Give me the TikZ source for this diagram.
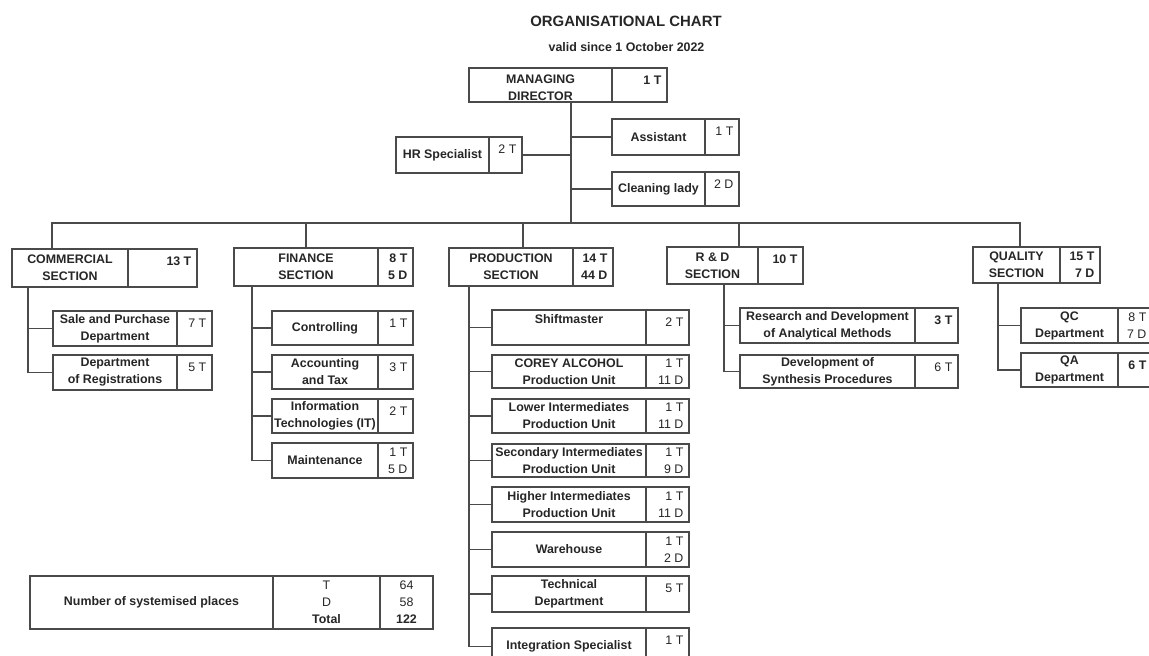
\documentclass[tikz,border=0pt]{standalone}
\usepackage{fontspec}
\setmainfont{Liberation Sans}
\usetikzlibrary{calc}
\definecolor{ink}{HTML}{262626}
\definecolor{linec}{HTML}{4A4A4A}
\newcommand{\bodyfont}{\fontsize{9.3}{12.75}\selectfont}
\tikzset{
  cell/.style={draw=linec, line width=0.9pt, inner sep=0pt, align=center,
    font=\bfseries\bodyfont, text=ink},
  numt/.style={inner sep=0pt, align=right, font=\bodyfont, text=ink, anchor=north east},
  numc/.style={inner sep=0pt, align=right, font=\bodyfont, text=ink, anchor=east},
  conn/.style={draw=linec, line width=0.9pt},
  tabt/.style={inner sep=0pt, align=center, font=\bodyfont, text=ink},
}
% a cell from (x1,y1) to (x2,y2): #1 options, #2 name, #3 x1, #4 y1, #5 x2, #6 y2, #7 text
\newcommand{\cellat}[7]{%
  \node[cell, minimum width={(#5-#3)*0.75pt}, minimum height={(#6-#4)*0.75pt}, #1]
    (#2) at ({(#3+#5)/2},{(#4+#6)/2}) {#7};
}
% #1 name, #2 x1, #3 y1, #4 divider x, #5 x2, #6 y2, #7 text, #8 number (top)
\newcommand{\orgbox}[8]{%
  \cellat{}{#1}{#2}{#3}{#4}{#6}{#7}
  \cellat{}{#1n}{#4}{#3}{#5}{#6}{}
  \node[numt] (#1t) at ($(#1n.north east)+(-6,8)$) {#8};
}
% same, number of two lines centred vertically
\newcommand{\orgboxc}[8]{%
  \cellat{}{#1}{#2}{#3}{#4}{#6}{#7}
  \cellat{}{#1n}{#4}{#3}{#5}{#6}{}
  \node[numc] (#1t) at ($(#1n.east)+(-6,0)$) {#8};
}
\begin{document}
\begin{tikzpicture}[x=0.75pt,y=-0.75pt]
\useasboundingbox (0,0) rectangle (1149,656);
\clip (0,0) rectangle (1149,656);

% titles
\node[font=\bfseries\fontsize{11.2}{13}\selectfont, text=ink, inner sep=0pt] (title) at (626,21) {ORGANISATIONAL CHART};
\node[font=\bfseries\bodyfont, text=ink, inner sep=0pt] (valid) at (626.5,47) {valid since 1 October 2022};

% top management
\orgbox{md}{469}{68}{612}{667}{102}{}{\textbf{1 T}}
\node[cell, draw=none] (mdtx) at ($(md.center)+(0,3)$) {MANAGING\\DIRECTOR};
\orgbox{asst}{612}{119}{705}{739}{155}{Assistant}{1 T}
\orgbox{hr}{396}{137}{489}{522}{173}{HR Specialist}{2 T}
\orgbox{clean}{612}{172}{705}{739}{206}{Cleaning lady}{2 D}

% sections
\orgbox{com}{12}{249}{128}{197}{287}{COMMERCIAL\\SECTION}{\textbf{13 T}}
\orgboxc{fin}{234}{248}{378}{413}{286}{FINANCE\\SECTION}{\textbf{8 T}\\\textbf{5 D}}
\orgboxc{prod}{449}{248}{573}{613}{286}{PRODUCTION\\SECTION}{\textbf{14 T}\\\textbf{44 D}}
\orgbox{rd}{667}{247}{758}{803}{284}{R \& D\\SECTION}{\textbf{10 T}}
\orgboxc{qual}{973}{247}{1060}{1100}{283}{QUALITY\\SECTION}{\textbf{15 T}\\\textbf{7 D}}

% commercial
\orgbox{sale}{53}{311}{177}{212}{346}{Sale and Purchase\\Department}{7 T}
\orgbox{reg}{53}{355}{177}{212}{390}{Department\\of Registrations}{5 T}

% finance
\orgbox{ctrl}{272}{311}{378}{413}{345}{Controlling}{1 T}
\orgbox{acct}{272}{355}{378}{413}{389}{Accounting\\and Tax}{3 T}
\orgbox{itech}{272}{399}{378}{413}{433}{Information\\Technologies (IT)}{2 T}
\orgboxc{maint}{272}{443}{378}{413}{478}{Maintenance}{1 T\\5 D}

% production
\orgbox{shift}{492}{310}{646}{689}{345}{Shiftmaster\\~}{2 T}
\orgboxc{corey}{492}{355}{646}{689}{388}{COREY ALCOHOL\\Production Unit}{1 T\\11 D}
\orgboxc{lower}{492}{399}{646}{689}{433}{Lower Intermediates\\Production Unit}{1 T\\11 D}
\orgboxc{second}{492}{444}{646}{689}{477}{Secondary Intermediates\\Production Unit}{1 T\\9 D}
\orgboxc{higher}{492}{487}{646}{689}{522}{Higher Intermediates\\Production Unit}{1 T\\11 D}
\orgboxc{ware}{492}{532}{646}{689}{567}{Warehouse}{1 T\\2 D}
\orgbox{tech}{492}{576}{646}{689}{612}{Technical\\Department}{5 T}
\orgbox{integ}{492}{628}{646}{689}{665}{Integration Specialist}{1 T}

% R&D
\orgbox{rdam}{740}{308}{915}{958}{343}{Research and Development\\of Analytical Methods}{\textbf{3 T}}
\orgbox{rdsp}{740}{355}{915}{958}{388}{Development of\\Synthesis Procedures}{6 T}

% quality
\orgboxc{qc}{1021}{308}{1118}{1152}{343}{QC\\Department}{8 T\\7 D}
\orgbox{qa}{1021}{353}{1118}{1152}{387}{QA\\Department}{\textbf{6 T}}

% connectors of the top
\coordinate (dm) at (571,223);
\coordinate (dc) at (52,223);
\coordinate (df) at (306,223);
\coordinate (dp) at (523,223);
\coordinate (dr) at (739,223);
\coordinate (dq) at (1020,223);
\draw[conn] (md.south -| dm) -- (dm);
\draw[conn] (asst.west) -- (asst.west -| dm);
\draw[conn] (hrn.east) -- (hrn.east -| dm);
\draw[conn] (clean.west) -- (clean.west -| dm);
\draw[conn] (com.north -| dc) -- (dc) -- (dq) -- (qual.north -| dq);
\draw[conn] (fin.north -| df) -- (df);
\draw[conn] (prod.north -| dp) -- (dp);
\draw[conn] (rd.north -| dr) -- (dr);

% spines
\coordinate (sc) at (28,0);
\coordinate (sf) at (252,0);
\coordinate (sp) at (469,0);
\coordinate (sr) at (724,0);
\coordinate (sq) at (998,0);
\foreach \b in {sale,reg} \draw[conn] (com.south -| sc) |- (\b.west);
\foreach \b in {ctrl,acct,itech,maint} \draw[conn] (fin.south -| sf) |- (\b.west);
\foreach \b in {shift,corey,lower,second,higher,ware,tech,integ} \draw[conn] (prod.south -| sp) |- (\b.west);
\foreach \b in {rdam,rdsp} \draw[conn] (rd.south -| sr) |- (\b.west);
\foreach \b in {qc,qa} \draw[conn] (qual.south -| sq) |- (\b.west);

% summary table
\cellat{}{tabl}{30}{576}{273}{629}{Number of systemised places}
\cellat{}{tabm}{273}{576}{380}{629}{}
\cellat{}{tabr}{380}{576}{433}{629}{}
\node[tabt] (tabmt) at (tabm.center) {T\\D\\\textbf{Total}};
\node[tabt] (tabrt) at (tabr.center) {64\\58\\\textbf{122}};
\end{tikzpicture}
\end{document}
